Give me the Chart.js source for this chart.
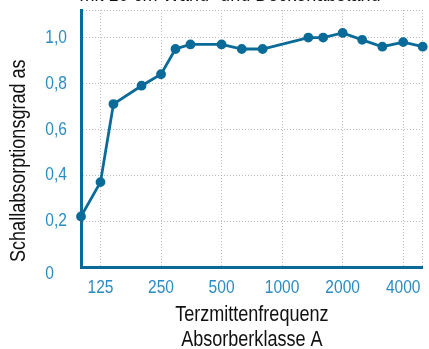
<!DOCTYPE html>
<html>
<head>
<meta charset="utf-8">
<script src="https://cdn.jsdelivr.net/npm/chart.js@4/dist/chart.umd.min.js"></script>
<style>
  html, body { margin: 0; padding: 0; background: #fff; }
  #wrap { width: 429px; height: 349px; }
</style>
</head>
<body>
<div id="wrap"><canvas id="absorption"></canvas></div>
<script>
// third-octave band centres (Hz) and measured absorption coefficient
const freq = [100, 125, 145, 200, 250, 295, 350, 500, 630, 800, 1350, 1600, 2000, 2500, 3150, 4000, 5000];
const alpha = [0.22, 0.37, 0.71, 0.79, 0.84, 0.95, 0.97, 0.97, 0.95, 0.95, 1.0, 1.0, 1.02, 0.99, 0.96, 0.98, 0.96];

const freqTicks = [125, 250, 500, 1000, 2000, 4000, 5000];
const freqLabels = ['125', '250', '500', '1000', '2000', '4000', ''];
const alphaTicks = [0, 0.2, 0.4, 0.6, 0.8, 1.0, 1.12];
// origin label sits low and left, in the corner below the axis
const alphaLabels = [['', '0   '], '0,2', '0,4', '0,6', '0,8', '1,0', ''];

const FONT = '"Liberation Sans", Arial, sans-serif';
const NARROW = 0.82; // squeeze Liberation Sans into an Arial Narrow look
const LINE = '#0a6b99';
const TICK = '#2b8cc0';
const GRID = '#bdbdbd';

const canvas = document.getElementById('absorption');
const ctx = canvas.getContext('2d');

// no narrow face installed, so condense every text run horizontally
const rawFillText = ctx.fillText;
ctx.fillText = function (text, x, y) {
    this.save();
    this.translate(x, y);
    this.scale(NARROW, 1);
    rawFillText.call(this, text, 0, 0);
    this.restore();
};

// fixed axis boxes, no extra room for overhanging end labels
const fixBox = (w, h) => s => {
    if (w) s.width = w;
    if (h) s.height = h;
    s.paddingTop = s.paddingBottom = s.paddingLeft = s.paddingRight = 0;
};

// heading sits mostly above the canvas, only its lower edge shows
const heading = {
    id: 'heading',
    afterDraw(chart) {
        const c = chart.ctx;
        c.save();
        c.font = '22px ' + FONT;
        c.fillStyle = '#111';
        c.textAlign = 'center';
        c.textBaseline = 'alphabetic';
        c.fillText('mit 10 cm Wand- und Deckenabstand', 230, 1);
        c.restore();
    }
};

new Chart(ctx, {
    type: 'line',
    data: {
        datasets: [{
            data: freq.map((f, i) => ({x: f, y: alpha[i]})),
            borderColor: LINE,
            backgroundColor: LINE,
            borderWidth: 2.8,
            pointRadius: 3.5,
            pointHoverRadius: 3.5,
            tension: 0,
            clip: false
        }]
    },
    options: {
        responsive: true,
        maintainAspectRatio: false,
        animation: false,
        layout: { padding: { top: 10, right: 4, left: 0, bottom: 0 } },
        plugins: {
            legend: { display: false },
            tooltip: { enabled: false }
        },
        scales: {
            x: {
                type: 'logarithmic',
                min: 100,
                max: 5000,
                afterBuildTicks: s => { s.ticks = freqTicks.map(v => ({value: v})); },
                afterFit: fixBox(0, 82),
                ticks: {
                    autoSkip: false,
                    maxRotation: 0,
                    color: TICK,
                    padding: 9,
                    font: { family: FONT, size: 19 },
                    callback: (v, i) => freqLabels[i]
                },
                grid: { color: GRID, lineWidth: 1, drawTicks: false },
                border: { color: LINE, width: 3, dash: [1, 2] },
                title: {
                    display: true,
                    text: ['Terzmittenfrequenz', 'Absorberklasse A'],
                    color: '#111',
                    font: { family: FONT, size: 22, lineHeight: 1.15 },
                    padding: { top: 0, bottom: -4 }
                }
            },
            y: {
                type: 'linear',
                min: 0,
                max: 1.12,
                afterBuildTicks: s => { s.ticks = alphaTicks.map(v => ({value: v})); },
                afterFit: fixBox(81, 0),
                ticks: {
                    color: TICK,
                    padding: 14,
                    font: c => ({ family: FONT, size: 19, lineHeight: c.index === 0 ? 0.75 : 1.2 }),
                    callback: (v, i) => alphaLabels[i]
                },
                grid: { color: GRID, lineWidth: 1, drawTicks: false },
                border: { color: LINE, width: 3, dash: [1, 2] },
                title: {
                    display: true,
                    text: ' Schallabsorptionsgrad as',
                    align: 'start',
                    color: '#111',
                    font: { family: FONT, size: 22, lineHeight: 1.2 },
                    padding: { top: 6, bottom: 0 }
                }
            }
        }
    },
    plugins: [heading]
});
</script>
</body>
</html>
